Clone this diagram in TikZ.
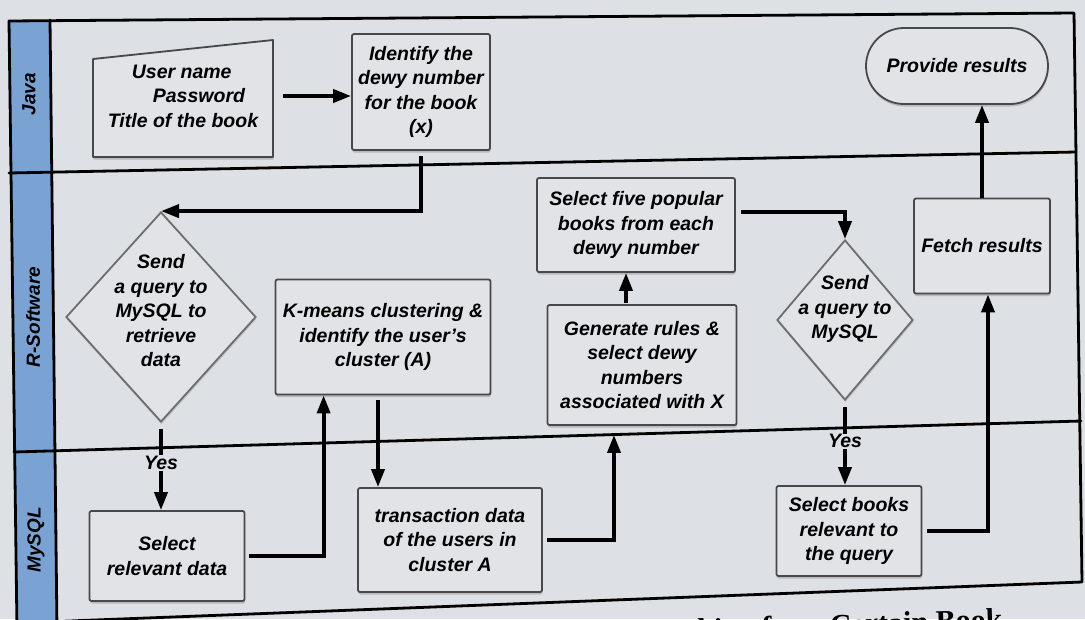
\documentclass[tikz,border=0pt]{standalone}
\usepackage{fontspec}
\setmainfont{Liberation Sans}
\newfontfamily\capfont{Liberation Serif}
\usetikzlibrary{arrows.meta,shapes.geometric,calc,shadows}
\definecolor{bg}{RGB}{221,224,228}
\definecolor{boxfill}{RGB}{225,227,231}
\definecolor{boxline}{RGB}{72,72,76}
\definecolor{lanefill}{RGB}{122,163,212}
\newcommand\txtfont{\fontsize{19.5}{24.5}\selectfont\bfseries\itshape}
\newcommand\lanefont{\fontsize{19}{22}\selectfont\bfseries\itshape}
\newcommand\capsize{\fontsize{30}{34}\selectfont\bfseries\capfont}
\tikzset{
  box/.style={draw=boxline, fill=boxfill, line width=1.8pt, rounded corners=2pt,
    align=center, font=\txtfont, inner sep=0pt,
    drop shadow={shadow xshift=0.5pt, shadow yshift=-2.5pt, opacity=0.4}},
  dia/.style={shape=diamond, draw=boxline!80, fill=boxfill, line width=1.8pt, inner sep=0pt,
    drop shadow={shadow xshift=0.5pt, shadow yshift=-2.5pt, opacity=0.3}},
  txtnode/.style={align=center, font=\txtfont, inner sep=0pt},
  conn/.style={line width=3.8pt, -{Triangle[length=18pt,width=13pt]}},
  lanelbl/.style={font=\lanefont, rotate=90, inner sep=0pt},
  yeslbl/.style={fill=bg, font=\txtfont, inner sep=1pt},
  frame/.style={line width=2.8pt, line cap=round, line join=round},
}
\begin{document}
\begin{tikzpicture}[x=1pt, y=-1pt]
\useasboundingbox (0,0) rectangle (1085,619);
\fill[bg] (0,0) rectangle (1085,619);

% lane header strip and frame
\fill[lanefill] (9,21) -- (50,20) -- (57,623) -- (17,623) -- cycle;
\draw[frame] (9,21) -- (1074,13) -- (1082,582) -- (17,623);
\draw[frame] (9,21) -- (17,630);
\draw[frame] (50,20) -- (57,630);
\draw[frame] (9,173) -- (1076,152);
\draw[frame] (14,452) -- (1081,421);

\node[lanelbl] (lj) at (29,94) {Java};
\node[lanelbl] (lr) at (33,317) {R-Software};
\node[lanelbl] (lm) at (36,540) {MySQL};

% manual input shape
\path[draw=boxline, fill=boxfill, line width=1.8pt, line join=round,
  drop shadow={shadow xshift=0.5pt, shadow yshift=-2.5pt, opacity=0.4}]
  (93,157) -- (273,157) -- (273,40) -- (93,59) -- cycle;
\node[txtnode, minimum width=180pt, minimum height=117pt, align=left] (b1) at (183,96)
  {\hspace*{24pt}User name\\\hspace*{45pt}Password\\Title of the book};

\node[box, minimum width=138pt, minimum height=116pt] (b2) at (421,92)
  {Identify the\\dewy number\\for the book\\(x)};

\node[box, minimum width=182pt, minimum height=76pt, rounded corners=38pt] (pr) at (957,66)
  {Provide results};

\node[dia, minimum width=190pt, minimum height=210pt] (d1) at (161,317) {};
\node[txtnode] (d1t) at (161,311) {Send\\a query to\\MySQL to\\retrieve\\data};

\node[box, minimum width=215pt, minimum height=115pt] (km) at (383,337)
  {K-means clustering \&\\identify the user's\\cluster (A)};

\node[box, minimum width=198pt, minimum height=94pt] (s5) at (636,225)
  {Select five popular\\books from each\\dewy number};

\node[box, minimum width=189pt, minimum height=120pt] (gen) at (642,365)
  {Generate rules \&\\select dewy\\numbers\\associated with X};

\node[dia, minimum width=136pt, minimum height=160pt] (d2) at (845,320) {};
\node[txtnode] (d2t) at (845,309) {Send\\a query to\\MySQL};

\node[box, minimum width=136pt, minimum height=95pt] (fr) at (982,246) {Fetch results};

\node[box, minimum width=155pt, minimum height=90pt] (sel) at (167,556)
  {Select\\relevant data};

\node[box, minimum width=184pt, minimum height=104pt] (tr) at (450,540)
  {transaction data\\of the users in\\cluster A};

\node[box, minimum width=145pt, minimum height=90pt] (sb) at (849,531)
  {Select books\\relevant to\\the query};

% helper x positions
\coordinate (kx) at (378,0);
\coordinate (gx) at (614,0);
\coordinate (gx2) at (626,0);

% connectors
\draw[conn, shorten <=10pt] (b1.east) -- (b1.east -| b2.west);
\draw[conn, shorten <=5pt] (b2.south) |- (d1.north);
\draw[conn, shorten <=6pt] (d1.south) -- node[yeslbl, pos=0.46] (y1) {Yes} (d1.south |- sel.north);
\draw[conn, shorten <=4pt] (sel.east) -| ($(km.south west)+(49pt,0pt)$);
\draw[conn, shorten <=5pt] (km.south -| kx) -- (tr.north -| kx);
\draw[conn, shorten <=4pt, shorten >=9pt] (tr.east) -| (gen.south -| gx);
\draw[conn, shorten <=1pt] (gen.north -| gx2) -- (s5.south -| gx2);
\draw[conn, shorten <=5pt] ([yshift=13pt]s5.east) -| (d2.north);
\draw[conn, shorten <=6pt] (d2.south) -- node[yeslbl, pos=0.48] (y2) {Yes} (d2.south |- sb.north);
\draw[conn, shorten <=5pt] (sb.east) -| ($(fr.south)+(6pt,0pt)$);
\draw[conn] (fr.north) -- (fr.north |- pr.south);

% caption (cut by the page edge, as in the photographed page)
\node[font=\capsize, anchor=base east, rotate=2, inner sep=0pt] (cap) at (1003,629)
  {Searching for a Certain Book};
\end{tikzpicture}
\end{document}
